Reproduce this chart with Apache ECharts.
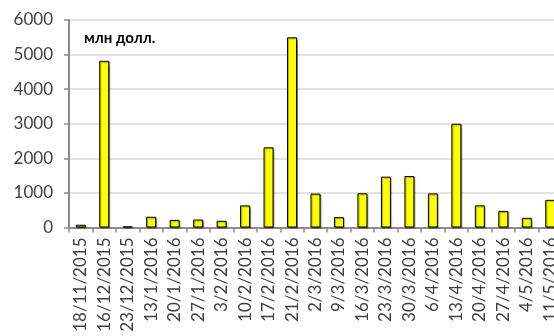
<!DOCTYPE html>
<html>
<head>
<meta charset="utf-8">
<script src="https://cdn.jsdelivr.net/npm/echarts@6/dist/echarts.min.js"></script>
<style>
  html, body { margin: 0; padding: 0; background: #fff; }
  #chart { width: 554px; height: 336px; }
</style>
</head>
<body>
<div id="chart"></div>
<script>
// Weekly volumes, million dollars
const dates = [
  '18/11/2015', '16/12/2015', '23/12/2015', '13/1/2016', '20/1/2016',
  '27/1/2016', '3/2/2016', '10/2/2016', '17/2/2016', '21/2/2016',
  '2/3/2016', '9/3/2016', '16/3/2016', '23/3/2016', '30/3/2016',
  '6/4/2016', '13/4/2016', '20/4/2016', '27/4/2016', '4/5/2016', '11/5/2016'
];
const volumes = [
  80, 4820, 30, 310, 220,
  230, 195, 640, 2320, 5500,
  980, 300, 990, 1470, 1490,
  985, 3000, 640, 480, 280, 800
];
const unitLabel = 'млн долл.';

const chart = echarts.init(document.getElementById('chart'), null, { renderer: 'canvas' });
const font = 'Lato, "Noto Sans", sans-serif';

chart.setOption({
  animation: false,
  backgroundColor: '#ffffff',
  // plot area runs slightly past the right edge of the canvas
  grid: {
    left: 69, top: 20, width: 493, height: 207.5,
    containLabel: false,
    outerBoundsMode: 'none'
  },
  graphic: [{
    type: 'text',
    left: 84,
    top: 31,
    style: { text: unitLabel, font: 'bold 15px ' + font, fill: '#000' }
  }],
  xAxis: {
    type: 'category',
    data: dates,
    boundaryGap: true,
    axisLine: { lineStyle: { color: '#8c8c8c', width: 2 } },
    axisTick: { show: true, length: 5, lineStyle: { color: '#8c8c8c', width: 1.5 } },
    axisLabel: {
      rotate: 90,
      interval: 0,
      margin: 10,
      fontFamily: font,
      fontSize: 17,
      color: '#404040'
    }
  },
  yAxis: {
    type: 'value',
    min: 0,
    max: 6000,
    interval: 1000,
    axisLine: { show: true, lineStyle: { color: '#8c8c8c', width: 2 } },
    axisTick: { show: true, length: 5, lineStyle: { color: '#8c8c8c', width: 1.5 } },
    axisLabel: {
      margin: 16,
      fontFamily: font,
      fontSize: 17,
      color: '#404040',
      formatter: function (v) { return String(v); }
    },
    splitLine: { lineStyle: { color: '#d9d9d9', width: 1.5 } }
  },
  series: [{
    type: 'bar',
    data: volumes,
    barWidth: 10,
    itemStyle: {
      color: '#ffff00',
      borderColor: '#000000',
      borderWidth: 1,
      shadowColor: 'rgba(0,0,0,0.35)',
      shadowOffsetX: 1,
      shadowOffsetY: 1,
      shadowBlur: 1
    }
  }]
});
</script>
</body>
</html>
